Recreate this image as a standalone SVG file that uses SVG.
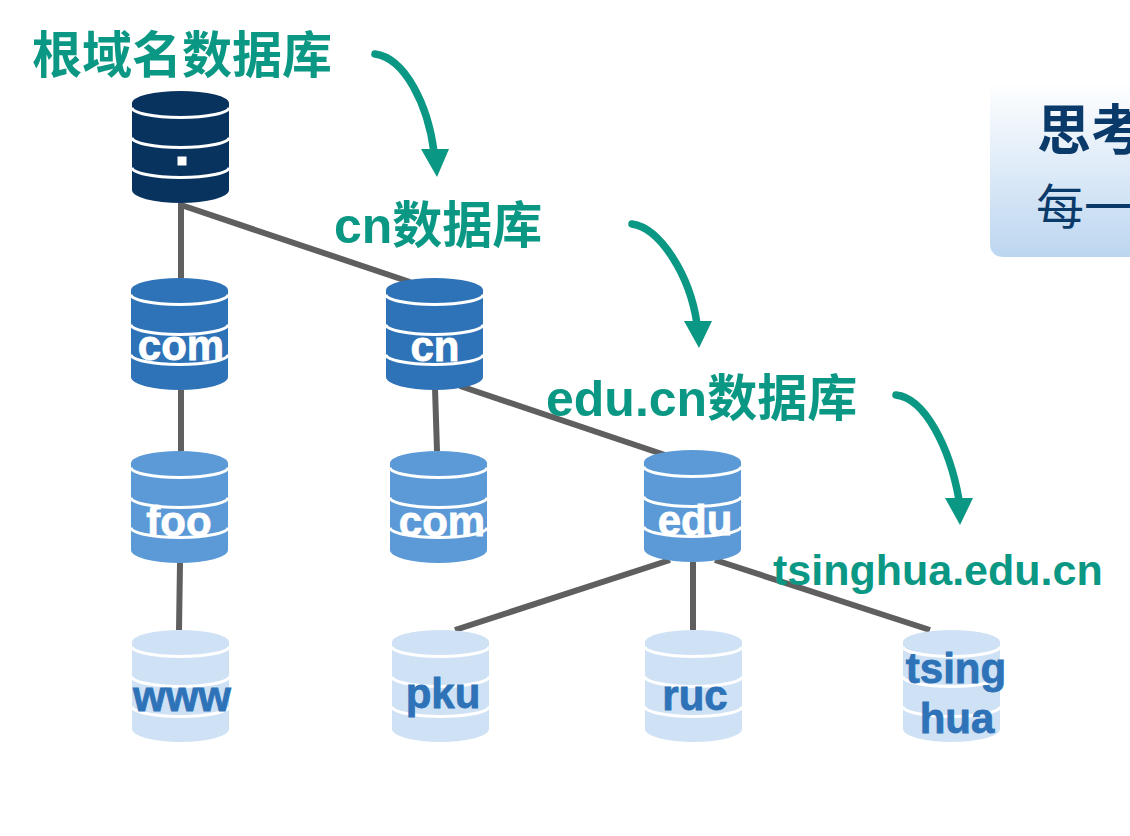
<svg xmlns="http://www.w3.org/2000/svg" xmlns:xlink="http://www.w3.org/1999/xlink" width="1130" height="836" viewBox="0 0 1130 836">
<style>
.c{stroke:#5f5f5f;stroke-width:6;fill:none}
.a{stroke:#0a9784;stroke-width:7.500;fill:none;stroke-linecap:round}
.h{fill:#0a9784}
.g{fill:#0a9784;font:bold 50px "Liberation Sans","Noto Sans CJK SC",sans-serif}
.sm{font-size:43px}
.t{font:bold 42px "Liberation Sans",sans-serif;text-anchor:middle;stroke-width:.8}
.w{fill:#fff;stroke:#fff}.b{fill:#2e72b8;stroke:#2e72b8}
.l0{fill:#08335f}.l1{fill:#2e72b8}.l2{fill:#5b9ad6}.l3{fill:#cfe2f5}
.s{stroke:#fff;stroke-width:3;fill:none}
</style>
<defs>
<linearGradient id="pg" x1="0" y1="0" x2="0" y2="1"><stop offset="0" stop-color="#fff"/><stop offset="1" stop-color="#bcd6f0"/></linearGradient>
<g id="sep"><path class="s" d="M0 16.500A48.500 10 0 0 0 97 16.500M0 46.500A48.500 10 0 0 0 97 46.500M0 76.500A48.500 10 0 0 0 97 76.500"/></g>
<path id="body" d="M0 12A48.500 12 0 0 1 97 12V99A48.500 13 0 0 1 0 99Z"/>
</defs>
<rect width="1130" height="836" fill="#fff"/>
<g id="panel">
<path d="M1130 82H990V243Q990 257 1004 257H1130Z" fill="url(#pg)"/>
<text x="1037" y="150" font-family="'Noto Sans CJK SC',sans-serif" font-size="54" font-weight="700" fill="#0a3a6a">思考</text>
<text x="1036" y="224" font-family="'Noto Sans CJK SC',sans-serif" font-size="48" fill="#0a3a6a">每一</text>
</g>
<g id="connectors">
<path class="c" d="M181 203V278M181 205L410 282M181 390V451M435 388L437 451M460 386L665 455M180 563L179 630M670 560L455 630M693 562V630M715 560L930 630"/>
<path class="a" d="M375 54C405 58 428 105 434 152"/>
<path class="a" d="M632 224C660 228 690 275 697 324"/>
<path class="a" d="M896 395C925 398 950 448 959 500"/>
<path class="h" d="M421 149H449L437 177ZM684 321H712L699 348ZM945 498H973L960 525Z"/>
</g>
<g id="n-root" transform="translate(132 91)"><use xlink:href="#body" class="l0"/><use xlink:href="#sep"/><rect x="46" y="66" width="8" height="8" class="w"/></g>
<g id="n-com" transform="translate(131 278)"><use xlink:href="#body" class="l1"/><use xlink:href="#sep"/><text x="50" y="82" class="t w">com</text></g>
<g id="n-cn" transform="translate(386 278)"><use xlink:href="#body" class="l1"/><use xlink:href="#sep"/><text x="49" y="83" class="t w">cn</text></g>
<g id="n-foo" transform="translate(131 451)"><use xlink:href="#body" class="l2"/><use xlink:href="#sep"/><text x="48" y="85" class="t w">foo</text></g>
<g id="n-com2" transform="translate(390 451)"><use xlink:href="#body" class="l2"/><use xlink:href="#sep"/><text x="52" y="85" class="t w">com</text></g>
<g id="n-edu" transform="translate(644 450)"><use xlink:href="#body" class="l2"/><use xlink:href="#sep"/><text x="51" y="85" class="t w">edu</text></g>
<g id="n-www" transform="translate(132 630)"><use xlink:href="#body" class="l3"/><use xlink:href="#sep"/><text x="50" y="81" class="t b">www</text></g>
<g id="n-pku" transform="translate(392 630)"><use xlink:href="#body" class="l3"/><use xlink:href="#sep"/><text x="51" y="78" class="t b">pku</text></g>
<g id="n-ruc" transform="translate(645 630)"><use xlink:href="#body" class="l3"/><use xlink:href="#sep"/><text x="50" y="80" class="t b">ruc</text></g>
<g id="n-tsing" transform="translate(903 630)"><use xlink:href="#body" class="l3"/><use xlink:href="#sep"/><text x="53" y="53" class="t b">tsing</text><text x="54" y="103" class="t b">hua</text></g>
<g id="labels">
<text x="32" y="73" class="g">根域名数据库</text>
<text x="334" y="243" class="g">cn数据库</text>
<text x="546" y="416" class="g">edu.cn数据库</text>
<text x="773" y="585" class="g sm">tsinghua.edu.cn</text>
</g>
</svg>
